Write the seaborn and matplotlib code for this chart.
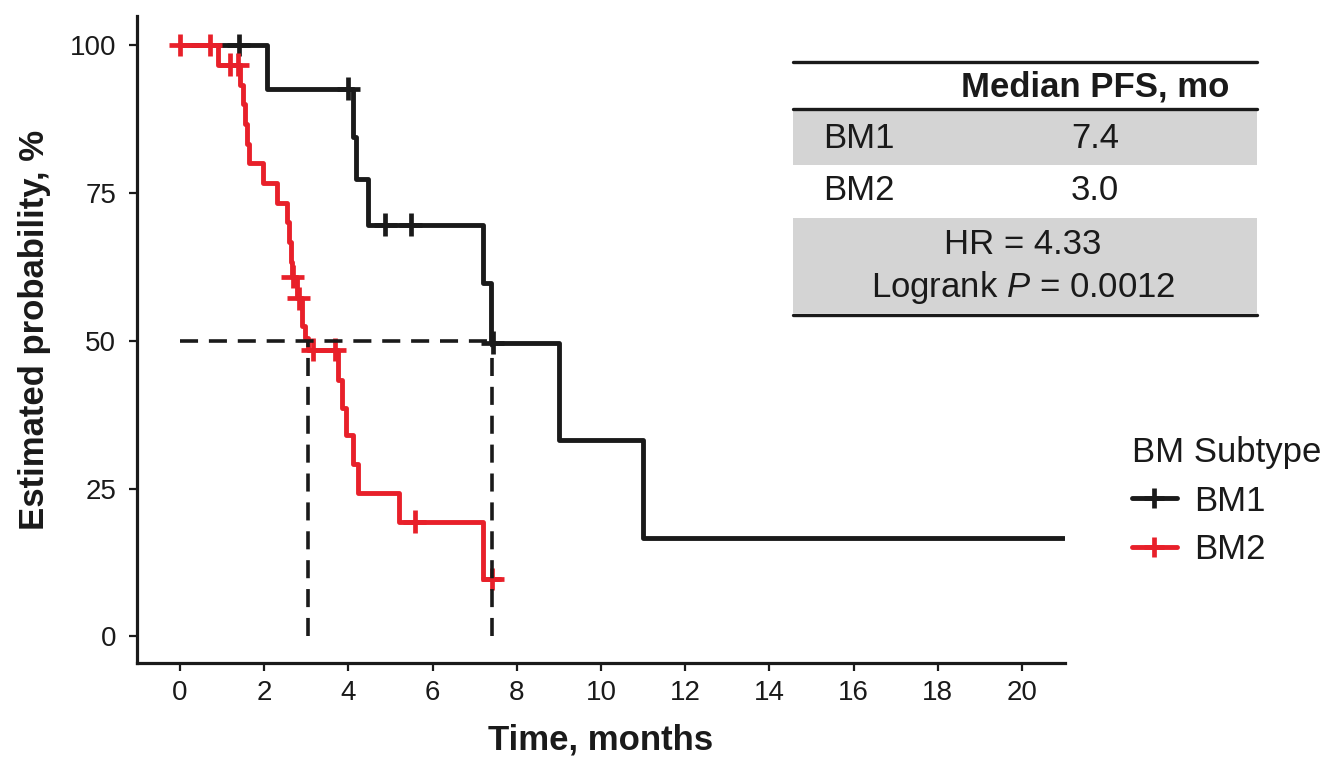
import matplotlib
matplotlib.use("Agg")
import matplotlib.pyplot as plt
from matplotlib.lines import Line2D
from matplotlib.patches import Rectangle
import pandas as pd
import seaborn as sns

# Kaplan-Meier step curves (time in months, survival in %)
bm1_time = [0, 2.06, 4.12, 4.17, 4.47, 7.2, 7.38, 9.0, 11.0, 21.0]
bm1_surv = [100, 92.6, 84.4, 77.4, 69.6, 59.7, 49.7, 33.2, 16.6, 16.6]
bm1_cens_time = [1.4, 4.0, 4.88, 5.48, 7.43]
bm1_cens_surv = [100, 92.6, 69.6, 69.6, 49.7]

bm2_time = [0, 0.9, 1.43, 1.5, 1.55, 1.6, 1.65, 1.97, 2.3, 2.55, 2.6, 2.63, 2.66,
            2.78, 2.9, 2.98, 3.05, 3.75, 3.85, 3.95, 4.1, 4.22, 5.2, 7.2, 7.6]
bm2_surv = [100, 96.7, 93.3, 90.0, 86.7, 83.3, 80.0, 76.7, 73.3, 70.0, 66.7, 63.3, 60.8,
            57.2, 52.5, 50.5, 48.5, 43.3, 38.6, 34.0, 29.2, 24.3, 19.4, 9.7, 9.7]
bm2_cens_time = [0.0, 0.72, 1.2, 1.38, 2.68, 2.82, 3.15, 3.68, 5.58, 7.42]
bm2_cens_surv = [100, 100, 96.7, 96.7, 60.8, 57.2, 48.5, 48.5, 19.4, 9.7]

groups = ["BM1", "BM2"]
colors = {"BM1": "#1A1A1A", "BM2": "#E8202A"}
median_time = [7.42, 3.05]

table_header = "Median PFS, mo"
table_median = ["7.4", "3.0"]
hr_text = "HR = 4.33"
logrank_text = "Logrank $\\it{P}$ = 0.0012"

x_ticks = list(range(0, 21, 2))
y_ticks = [0, 25, 50, 75, 100]

sns.set_theme(style="ticks")
plt.rcParams['font.family'] = ['Liberation Sans', 'DejaVu Sans']
plt.rcParams['mathtext.fontset'] = 'custom'
plt.rcParams['mathtext.it'] = 'Liberation Sans:italic'

curves = pd.concat([
    pd.DataFrame({'time': bm1_time, 'surv': bm1_surv, 'group': 'BM1'}),
    pd.DataFrame({'time': bm2_time, 'surv': bm2_surv, 'group': 'BM2'}),
])
cens = pd.concat([
    pd.DataFrame({'time': bm1_cens_time, 'surv': bm1_cens_surv, 'group': 'BM1'}),
    pd.DataFrame({'time': bm2_cens_time, 'surv': bm2_cens_surv, 'group': 'BM2'}),
])

fig = plt.figure(figsize=(13.25, 7.61), dpi=100)
ax = fig.add_axes([137 / 1325, 1 - 663 / 761, 928 / 1325, 647.5 / 761])

sns.lineplot(data=curves, x='time', y='surv', hue='group', palette=colors,
             drawstyle='steps-post', estimator=None, sort=False, lw=3.5,
             legend=False, ax=ax)
sns.scatterplot(data=cens, x='time', y='surv', hue='group', palette=colors,
                marker='+', s=270, linewidth=3.4, legend=False, ax=ax, zorder=3)

# median lines
dash = (0, (5, 3))
ax.plot([0, max(median_time)], [50, 50], ls=dash, color='#1A1A1A', lw=2.6, zorder=4)
for m in median_time:
    ax.plot([m, m], [0, 50], ls=dash, color='#1A1A1A', lw=2.6, zorder=4)

ax.set_xlim(-1.02, 21.02)
ax.set_ylim(-4.5, 105)
ax.set_xticks(x_ticks)
ax.set_yticks(y_ticks)
ax.tick_params(labelsize=20, length=6, width=1.6, color='#1A1A1A', labelcolor='#1A1A1A')
ax.tick_params(axis='y', pad=9)
ax.tick_params(axis='x', pad=6)
for s in ['top', 'right']:
    ax.spines[s].set_visible(False)
for s in ['left', 'bottom']:
    ax.spines[s].set_linewidth(2.3)
    ax.spines[s].set_color('#1A1A1A')

ax.set_xlabel("Time, months", fontsize=25, fontweight='bold', color='#1A1A1A', va='center')
ax.set_ylabel("Estimated probability, %", fontsize=25, fontweight='bold', color='#1A1A1A', va='center')
ax.xaxis.set_label_coords(0.499, -0.119)
ax.yaxis.set_label_coords(-0.11, 0.514)

# legend
handles = [Line2D([0], [0], color=colors[g], lw=3.5, marker='+', ms=14, mew=3.4) for g in groups]
leg = ax.legend(handles, groups, title="BM Subtype", loc='upper left',
                bbox_to_anchor=(1118 / 1325, 1 - 422 / 761), bbox_transform=fig.transFigure,
                frameon=False, fontsize=25, title_fontsize=25, handlelength=1.3,
                handletextpad=0.5, labelspacing=0.45, borderaxespad=0)
leg._legend_box.align = 'left'
for t in leg.get_texts() + [leg.get_title()]:
    t.set_color('#1A1A1A')

# summary table, drawn in pixel-like coordinates
tab = fig.add_axes([793 / 1325, 1 - 318 / 761, 464 / 1325, 261 / 761])
tab.set_xlim(793, 1257)
tab.set_ylim(318, 57)
tab.axis('off')
gray = '#D4D4D4'
tab.add_patch(Rectangle((793, 111), 464, 54, color=gray, lw=0))
tab.add_patch(Rectangle((793, 218), 464, 95, color=gray, lw=0))
for yy in [61.5, 109, 315]:
    tab.plot([793, 1257], [yy, yy], color='#1A1A1A', lw=2.4, clip_on=False)
tab.text(1095, 87, table_header, fontsize=25, fontweight='bold', ha='center', va='center', color='#1A1A1A')
for i, (g, m) in enumerate(zip(groups, table_median)):
    yy = [139, 191][i]
    tab.text(823, yy, g, fontsize=25, ha='left', va='center', color='#1A1A1A')
    tab.text(1095, yy, m, fontsize=25, ha='center', va='center', color='#1A1A1A')
tab.text(1023, 245, hr_text, fontsize=25, ha='center', va='center', color='#1A1A1A')
tab.text(1023, 288, logrank_text, fontsize=25, ha='center', va='center', color='#1A1A1A')

fig.savefig("out.png", dpi=100)
